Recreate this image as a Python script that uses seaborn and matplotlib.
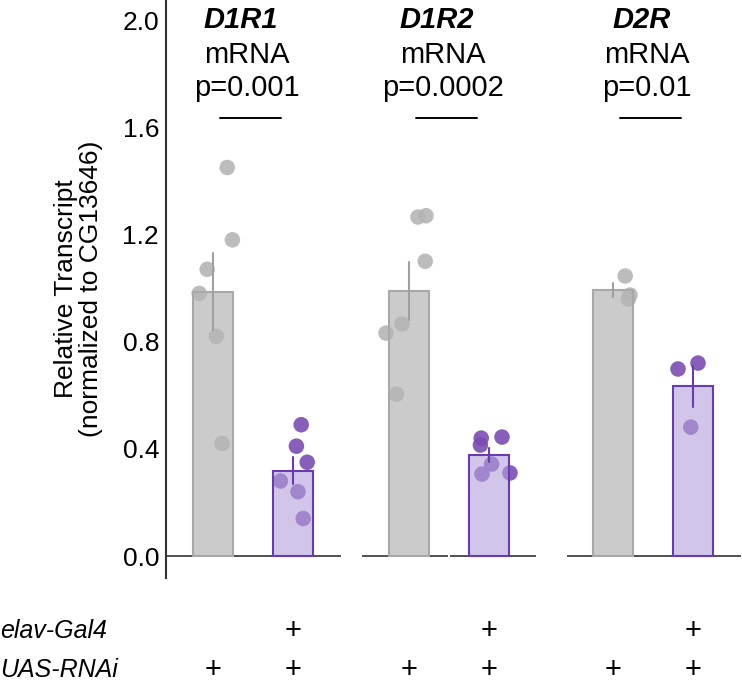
import numpy as np
import pandas as pd
import matplotlib
matplotlib.use("Agg")
import matplotlib.pyplot as plt
import matplotlib.transforms as mtransforms
import seaborn as sns

# values (relative transcript, normalized to CG13646)
genes = ["D1R1", "D1R2", "D2R"]
pvals = ["p=0.001", "p=0.0002", "p=0.01"]
ctrl_pos = [0.0, 2.45, 5.0]

d1r1_ctrl = [1.45, 1.18, 1.07, 0.98, 0.82, 0.42]
d1r1_rnai = [0.49, 0.41, 0.35, 0.28, 0.24, 0.14]
d1r2_ctrl = [1.265, 1.27, 1.10, 0.866, 0.832, 0.604]
d1r2_rnai = [0.44, 0.414, 0.444, 0.343, 0.306, 0.31]
d2r_ctrl = [1.045, 0.974, 0.959]
d2r_rnai = [0.698, 0.72, 0.481]

# horizontal scatter of the dots around each bar, as seen in the picture
d1r1_ctrl_dx = [0.175, 0.24, -0.075, -0.175, 0.04, 0.11]
d1r1_rnai_dx = [0.10, 0.04, 0.175, -0.16, 0.06, 0.125]
d1r2_ctrl_dx = [0.11, 0.21, 0.20, -0.09, -0.29, -0.16]
d1r2_rnai_dx = [-0.10, -0.11, 0.16, 0.03, -0.09, 0.26]
d2r_ctrl_dx = [0.15, 0.21, 0.19]
d2r_rnai_dx = [-0.19, 0.06, -0.03]

groups = [
    (d1r1_ctrl, d1r1_ctrl_dx, d1r1_rnai, d1r1_rnai_dx),
    (d1r2_ctrl, d1r2_ctrl_dx, d1r2_rnai, d1r2_rnai_dx),
    (d2r_ctrl, d2r_ctrl_dx, d2r_rnai, d2r_rnai_dx),
]

rows = []
for g, (c, cdx, r, rdx) in enumerate(groups):
    p = ctrl_pos[g]
    for v, dx in zip(c, cdx):
        rows.append({"pos": p, "dx": dx, "value": v, "geno": "ctrl"})
    for v, dx in zip(r, rdx):
        rows.append({"pos": p + 1, "dx": dx, "value": v, "geno": "rnai"})
df = pd.DataFrame(rows)
df["xdot"] = df["pos"] + df["dx"]

sns.set_style("white")
plt.rcParams["font.family"] = ["Liberation Sans", "DejaVu Sans"]
plt.rcParams["text.color"] = "black"
plt.rcParams["ytick.color"] = "black"
plt.rcParams["axes.labelcolor"] = "black"
FS = 21

gray_dot, purple_dot = "#b5b5b5", "#7a4cb3"
gray_bar, purple_bar = (0.71, 0.71, 0.71, 0.7), (0.70, 0.63, 0.86, 0.6)
gray_edge, purple_edge = "#a8a8a8", "#6a3bb0"

fig = plt.figure(figsize=(7.42, 6.85), dpi=100)
ax = fig.add_axes([166 / 742, 1 - 578 / 685, 1 - 166 / 742, 578 / 685])

# dots first so the translucent bars sit over them
sns.scatterplot(data=df, x="xdot", y="value", hue="geno",
                palette={"ctrl": gray_dot, "rnai": purple_dot},
                s=125, edgecolor="none", alpha=0.9, legend=False,
                zorder=0.5, ax=ax)

sns.barplot(data=df, x="pos", y="value", hue="geno", native_scale=True,
            dodge=False, width=0.5, errorbar="se", capsize=0,
            palette={"ctrl": "#b6b6b6", "rnai": "#b4a3d9"},
            err_kws={"linewidth": 1.5}, legend=False, ax=ax)

rnai_pos = [p + 1 for p in ctrl_pos]
for bar in ax.patches:
    xc = bar.get_x() + bar.get_width() / 2
    is_rnai = min(abs(xc - p) for p in rnai_pos) < 0.3
    bar.set_facecolor(purple_bar if is_rnai else gray_bar)
    bar.set_edgecolor(purple_edge if is_rnai else gray_edge)
    bar.set_linewidth(1.5)
    bar.set_zorder(1)
for ln in ax.lines:
    xd = np.asarray(ln.get_xdata(), dtype=float)
    if len(xd) and min(abs(xd[0] - p) for p in rnai_pos) < 0.3:
        ln.set_color(purple_edge)
    else:
        ln.set_color("#a0a0a0")
    ln.set_zorder(2)

# baselines under each group
for g, p in enumerate(ctrl_pos):
    if g == 1:
        ax.hlines(0, p - 0.59, p + 0.49, color="#333333", lw=1.2, zorder=0.4)
        ax.hlines(0, p + 0.51, p + 1.59, color="#333333", lw=1.2, zorder=0.4)
    else:
        ax.hlines(0, p - 0.58, p + 1.6, color="#333333", lw=1.2, zorder=0.4)

# titles and significance bars
for g, p in enumerate(ctrl_pos):
    ax.text(p + 0.35, 2.0, genes[g], ha="center", va="center", fontsize=FS,
            fontweight="bold", style="italic")
    ax.text(p + 0.42, 1.87, "mRNA", ha="center", va="center", fontsize=FS)
    ax.text(p + 0.42, 1.746, pvals[g], ha="center", va="center", fontsize=FS)
    ax.plot([p + 0.08, p + 0.85], [1.634, 1.634], color="black", lw=1.4)

ax.set_xlim(-0.59, 6.61)
ax.set_ylim(-0.082, 2.075)
ax.set_yticks([0.0, 0.4, 0.8, 1.2, 1.6, 2.0])
ax.set_yticklabels(["0.0", "0.4", "0.8", "1.2", "1.6", "2.0"])
ax.tick_params(axis="y", length=0, pad=5, labelsize=19)
ax.set_xticks([])
ax.set_xlabel("")
ax.set_ylabel("Relative Transcript\n(normalized to CG13646)", fontsize=19,
              labelpad=14, linespacing=1.05)
for s in ["top", "right", "bottom"]:
    ax.spines[s].set_visible(False)
ax.spines["left"].set_color("#333333")
ax.spines["left"].set_linewidth(1.5)

# genotype table under the plot
trans = mtransforms.blended_transform_factory(ax.transData, fig.transFigure)
y_gal4 = 1 - 631 / 685
y_uas = 1 - 670 / 685
fig.text(0.0, y_gal4, "elav-Gal4", ha="left", va="center", fontsize=18, style="italic")
fig.text(0.0, y_uas, "UAS-RNAi", ha="left", va="center", fontsize=18, style="italic")
for p in ctrl_pos:
    ax.text(p + 1, y_gal4, "+", transform=trans, ha="center", va="center",
            fontsize=FS, clip_on=False)
    ax.text(p, y_uas, "+", transform=trans, ha="center", va="center",
            fontsize=FS, clip_on=False)
    ax.text(p + 1, y_uas, "+", transform=trans, ha="center", va="center",
            fontsize=FS, clip_on=False)

fig.savefig("out.png", dpi=100)
